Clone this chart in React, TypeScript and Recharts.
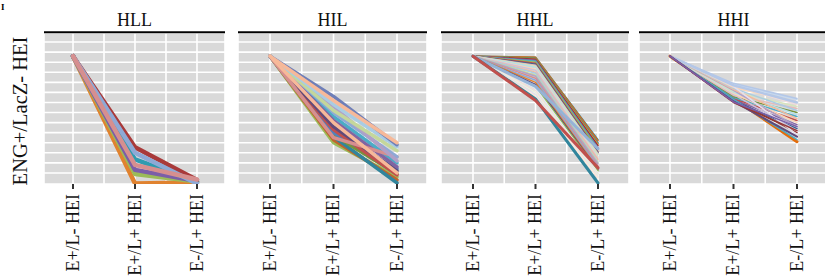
import { LineChart, Line, XAxis, YAxis, CartesianGrid, ReferenceLine } from "recharts"

const CATEGORIES = ["E+/L- HEI", "E+/L+ HEI", "E-/L+ HEI"]
const PANELS = ["HLL", "HIL", "HHL", "HHI"]
const START = 12.6
const Y_TICKS = [1, 2, 3, 4, 5, 6, 7, 8, 9, 10, 11, 12, 13, 14]

// HLL
const hllMid = [-0.05, 0.9, 1.3, 2.35, 3.55, 3.0, 1.8]
const hllEnd = [0.05, 0.15, 0.2, 0.1, 0.3, -0.05, 0.35]
const hllColors = ["#e0822f", "#9bbb59", "#7b5ea8", "#2f9bb0", "#a93a3a", "#8ea9d6", "#d68f8f"]

// HIL
const hilMid = [4.0, 4.3, 4.6, 4.8, 5.0, 5.3, 5.6, 6.6, 6.2, 4.5, 7.0, 7.6, 7.2, 7.8, 8.6, 6.0, 8.2]
const hilEnd = [0.6, 0.3, 0.0, 0.9, 1.4, 0.8, 1.2, 2.0, 1.6, 2.6, 2.6, 2.2, 3.2, 3.6, 3.8, 1.0, 4.0]
const hilColors = [
    "#9bbb59", "#c0642d", "#31859c", "#77933c", "#4f81bd", "#c0504d", "#604a7b", "#4bacc6",
    "#8064a2", "#d68f8f", "#8ea9d6", "#b1a0c7", "#c4d79b", "#a9cce3", "#6f7fb8", "#f7b999", "#f7b999"
]

// HHL
const hhlMid = [
    12.5, 12.5, 12.4, 12.4, 12.3, 12.3, 12.2, 12.1, 12.0, 11.9, 11.8, 11.7, 11.6, 11.5, 11.3, 11.2,
    11.0, 10.9, 10.7, 10.6, 10.4, 10.2, 10.0, 9.8, 9.6, 9.4, 9.2, 9.0, 8.8, 8.6, 9.6, 8.35, 8.2
]
const hhlEnd = [
    4.3, 4.2, 4.0, 3.9, 3.8, 3.7, 3.5, 3.4, 3.3, 3.1, 3.0, 2.9, 2.8, 2.6, 2.5, 2.4,
    2.3, 2.1, 2.0, 1.9, 1.7, 1.6, 1.4, 1.3, 1.2, 1.0, 0.9, 0.8, 0.6, 0.5, 3.4, 0.0, 1.5
]
const hhlColors = [
    "#31859c", "#e46c0a", "#4f81bd", "#77933c", "#f79646", "#953735", "#8064a2", "#4bacc6",
    "#9bbb59", "#c0504d", "#376092", "#e6b9b8", "#d7e4bd", "#b7dee8", "#fcd5b5", "#ccc1da",
    "#f7b999", "#a9cce3", "#c4d79b", "#b1a0c7", "#d68f8f", "#8ea9d6", "#e0822f", "#604a7b",
    "#98b954", "#dbeef4", "#f2dcdb", "#ebf1de", "#e4dfec", "#fde9d9", "#95b3d7", "#31859c", "#c0504d"
]
const hhlWidths = [
    1.5, 1.5, 1.5, 1.5, 1.5, 1.5, 1.5, 1.5, 1.5, 1.5, 1.5, 1.5, 1.5, 1.5, 1.5, 1.5,
    1.5, 1.5, 1.5, 1.5, 1.5, 1.5, 1.5, 1.5, 1.5, 1.5, 1.5, 1.5, 1.5, 1.5, 3, 3, 3
]

// HHI
const hhiMid = [
    8.4, 8.3, 8.2, 8.3, 8.4, 8.5, 8.6, 8.7, 8.8, 8.9, 9.0, 9.1, 9.2, 9.3, 9.4, 9.5,
    9.6, 9.7, 9.8, 9.9, 8.3, 9.7, 8.1, 8.0, 8.05
]
const hhiEnd = [
    4.1, 5.0, 5.4, 5.8, 6.2, 6.6, 7.0, 7.4, 5.2, 6.0, 6.8, 7.6, 5.6, 6.4, 7.2, 8.0,
    4.8, 7.8, 8.3, 8.4, 4.3, 8.0, 4.6, 5.2, 5.6
]
const hhiColors = [
    "#e46c0a", "#953735", "#376092", "#8064a2", "#c0504d", "#4bacc6", "#77933c", "#e6b9b8",
    "#ccc1da", "#fcd5b5", "#b7dee8", "#d7e4bd", "#b1a0c7", "#f7b999", "#a9cce3", "#fcd5b5",
    "#e4dfec", "#f2dcdb", "#c5d9f1", "#b4c7e7", "#4bacc6", "#b4c7e7", "#604a7b", "#953735", "#7b5ea8"
]
const hhiWidths = [
    3, 1.5, 1.5, 1.5, 1.5, 1.5, 1.5, 1.5, 1.5, 1.5, 1.5, 1.5, 1.5, 1.5, 1.5, 1.5,
    1.5, 1.5, 1.5, 1.5, 1.5, 2.5, 2, 1.5, 1.5
]

const FONT = "'Liberation Serif', 'DejaVu Serif', serif"
const TOP = 33
const BOTTOM = 184
const H = 277

function buildRows(mids: number[], ends: number[]) {
    return CATEGORIES.map((_, i) => {
        const row: Record<string, number> = { x: i }
        mids.forEach((m, j) => {
            row["s" + j] = i === 0 ? START : i === 1 ? m : ends[j]
        })
        return row
    })
}

const CatTick = (props: any) => {
    const { x, y, payload } = props
    return (
        <text
            x={x}
            y={y}
            transform={`rotate(-90, ${x}, ${y})`}
            textAnchor="end"
            dy="0.33em"
            fontFamily={FONT}
            fontSize={18}
            fill="#111"
        >
            {CATEGORIES[payload.value]}
        </text>
    )
}

const NoTick = () => <g />

type PanelProps = {
    left: number
    width: number
    padL: number
    padR: number
    mids: number[]
    ends: number[]
    colors: string[]
    widths: number[]
}

function Panel({ left, width, padL, padR, mids, ends, colors, widths }: PanelProps) {
    const rows = buildRows(mids, ends)
    return (
        <div style={{ position: "absolute", left, top: 0 }}>
            <LineChart width={width} height={H} data={rows} margin={{ top: TOP, right: 0, bottom: 0, left: 0 }}>
                <CartesianGrid fill="#d9d9d9" stroke="#ffffff" strokeWidth={1.6} />
                <XAxis
                    dataKey="x"
                    type="number"
                    domain={[-padL, 2 + padR]}
                    ticks={[0, 1, 2]}
                    allowDataOverflow
                    height={H - BOTTOM}
                    axisLine={false}
                    tickLine={{ stroke: "#333", strokeWidth: 2 }}
                    tickSize={5}
                    tickMargin={5}
                    tick={<CatTick />}
                    interval={0}
                />
                <YAxis
                    type="number"
                    domain={[-0.1, 14.9]}
                    ticks={Y_TICKS}
                    allowDataOverflow
                    width={0}
                    tick={<NoTick />}
                    interval={0}
                    axisLine={false}
                    tickLine={false}
                />
                <ReferenceLine x={0.5} stroke="#ffffff" strokeWidth={1.6} />
                <ReferenceLine x={1.5} stroke="#ffffff" strokeWidth={1.6} />
                {mids.map((_, j) => (
                    <Line
                        key={j}
                        dataKey={"s" + j}
                        type="linear"
                        stroke={colors[j]}
                        strokeWidth={widths[j]}
                        strokeLinejoin="round"
                        strokeLinecap="round"
                        dot={false}
                        activeDot={false}
                        isAnimationActive={false}
                    />
                ))}
            </LineChart>
        </div>
    )
}

const layout = [
    { left: 44, width: 181, padL: 0.468, padR: 0.452 },
    { left: 238, width: 189, padL: 0.504, padR: 0.472 },
    { left: 441, width: 188, padL: 0.512, padR: 0.496 },
    { left: 639, width: 189, padL: 0.488, padR: 0.488 }
]

export default function App() {
    const series = [
        { mids: hllMid, ends: hllEnd, colors: hllColors, widths: hllMid.map(() => 4.5) },
        { mids: hilMid, ends: hilEnd, colors: hilColors, widths: hilMid.map(() => 3.5) },
        { mids: hhlMid, ends: hhlEnd, colors: hhlColors, widths: hhlWidths },
        { mids: hhiMid, ends: hhiEnd, colors: hhiColors, widths: hhiWidths }
    ]

    return (
        <div style={{ position: "absolute", left: 0, top: 0, width: 825, height: H, background: "#fff", overflow: "hidden" }}>
            {series.map((s, i) => (
                <Panel key={i} {...layout[i]} {...s} />
            ))}
            <svg width={825} height={H} style={{ position: "absolute", left: 0, top: 0, pointerEvents: "none" }}>
                <text x={1} y={10} fontFamily={FONT} fontWeight="bold" fontSize={9} fill="#000">I</text>
                <text
                    x={27}
                    y={111}
                    transform="rotate(-90, 27, 111)"
                    textAnchor="middle"
                    fontFamily={FONT}
                    fontSize={20.5}
                    fill="#111"
                >
                    ENG+/LacZ- HEI
                </text>
                {PANELS.map((p, i) => (
                    <g key={p}>
                        <text
                            x={layout[i].left + layout[i].width / 2}
                            y={26}
                            textAnchor="middle"
                            fontFamily={FONT}
                            fontSize={18}
                            fill="#111"
                        >
                            {p}
                        </text>
                        <line
                            x1={layout[i].left}
                            x2={layout[i].left + layout[i].width}
                            y1={32.3}
                            y2={32.3}
                            stroke="#000"
                            strokeWidth={2}
                        />
                    </g>
                ))}
            </svg>
        </div>
    )
}
